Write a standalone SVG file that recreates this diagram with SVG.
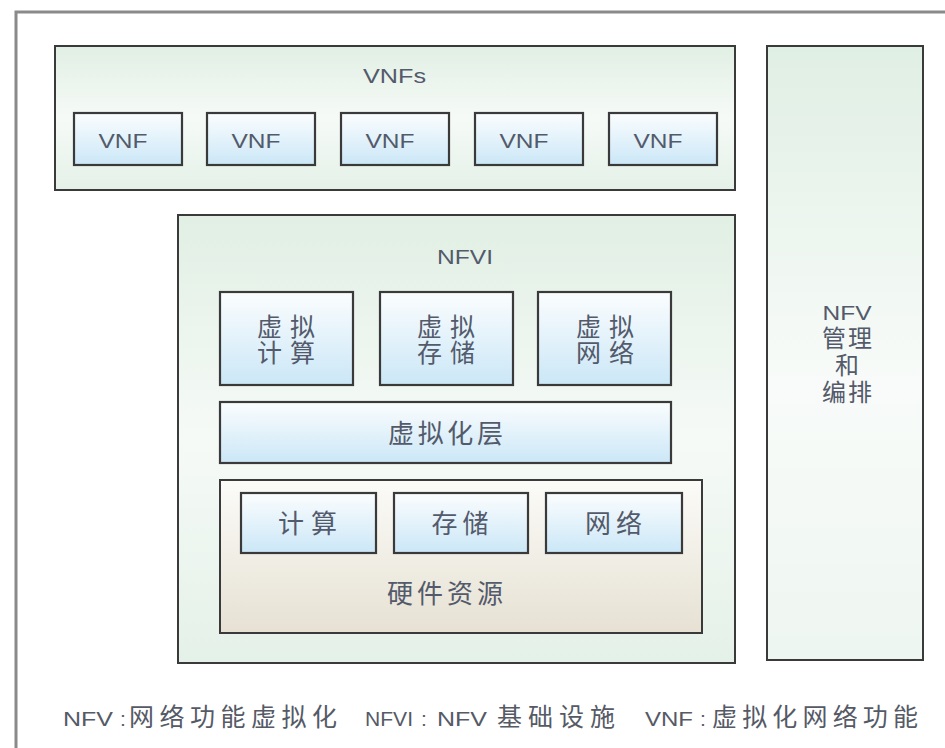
<svg xmlns="http://www.w3.org/2000/svg" width="945" height="748" viewBox="0 0 945 748">
<defs>
<linearGradient id="gGreen" x1="0" y1="0" x2="0" y2="1">
<stop offset="0" stop-color="#e1efe4"/>
<stop offset="0.5" stop-color="#f6faf7"/>
<stop offset="1" stop-color="#e4f1e8"/>
</linearGradient>
<linearGradient id="gSide" x1="0" y1="0" x2="0" y2="1">
<stop offset="0" stop-color="#e0efe4"/>
<stop offset="0.55" stop-color="#f8fbf9"/>
<stop offset="1" stop-color="#eef6f1"/>
</linearGradient>
<linearGradient id="gBlue" x1="0" y1="0" x2="0" y2="1">
<stop offset="0" stop-color="#fbfdfe"/>
<stop offset="1" stop-color="#cbe7f7"/>
</linearGradient>
<linearGradient id="gBeige" x1="0" y1="0" x2="0" y2="1">
<stop offset="0" stop-color="#fbfbf8"/>
<stop offset="1" stop-color="#e6e1d3"/>
</linearGradient>
</defs>
<style>
.frame{fill:none;stroke:#8a8a8a;stroke-width:3}
.cont{stroke:#3a3a3a;stroke-width:2}
.box{fill:url(#gBlue);stroke:#3a3a3a;stroke-width:2.2}
text{font-family:"Liberation Sans","Noto Sans CJK SC",sans-serif;fill:#535a6b;text-anchor:middle}
.lat{font-size:21px}
.cjk{font-size:26px}
.two{font-size:25px}
.side{font-size:24px}
.foot{font-size:21px;text-anchor:start;fill:#555a66}
.fc{font-size:25px}
</style>
<rect width="945" height="748" fill="#ffffff"/>
<rect class="frame" x="16" y="12" width="940" height="750"/>

<g id="vnfs">
<rect class="cont" x="55" y="46" width="680" height="144" fill="url(#gGreen)"/>
<text class="lat" x="394.5" y="83" textLength="63" lengthAdjust="spacingAndGlyphs">VNFs</text>
</g>
<g id="vnf1"><rect class="box" x="74" y="113" width="108" height="52"/><text class="lat" x="123" y="148" textLength="49" lengthAdjust="spacingAndGlyphs">VNF</text></g>
<g id="vnf2"><rect class="box" x="207" y="113" width="108" height="52"/><text class="lat" x="256" y="148" textLength="49" lengthAdjust="spacingAndGlyphs">VNF</text></g>
<g id="vnf3"><rect class="box" x="341" y="113" width="108" height="52"/><text class="lat" x="390" y="148" textLength="49" lengthAdjust="spacingAndGlyphs">VNF</text></g>
<g id="vnf4"><rect class="box" x="475" y="113" width="108" height="52"/><text class="lat" x="524" y="148" textLength="49" lengthAdjust="spacingAndGlyphs">VNF</text></g>
<g id="vnf5"><rect class="box" x="609" y="113" width="108" height="52"/><text class="lat" x="658" y="148" textLength="49" lengthAdjust="spacingAndGlyphs">VNF</text></g>

<g id="mano">
<rect class="cont" x="767" y="46" width="156" height="614" fill="url(#gSide)"/>
<text x="847" y="320"><tspan class="lat" x="847" textLength="49" lengthAdjust="spacingAndGlyphs">NFV</tspan><tspan class="side" x="847" y="347" textLength="50">管理</tspan><tspan class="side" x="847" y="374">和</tspan><tspan class="side" x="847" y="401" textLength="50">编排</tspan></text>
</g>

<g id="nfvi">
<rect class="cont" x="178" y="215" width="557" height="448" fill="url(#gGreen)"/>
<text class="lat" x="465" y="264" textLength="56" lengthAdjust="spacingAndGlyphs">NFVI</text>
</g>
<g id="vcompute"><rect class="box" x="220" y="292" width="133" height="93"/><text class="two"><tspan x="286" y="336" textLength="58">虚拟</tspan><tspan x="286" y="362" textLength="58">计算</tspan></text></g>
<g id="vstorage"><rect class="box" x="380" y="292" width="133" height="93"/><text class="two"><tspan x="446" y="336" textLength="58">虚拟</tspan><tspan x="446" y="362" textLength="58">存储</tspan></text></g>
<g id="vnetwork"><rect class="box" x="538" y="292" width="133" height="93"/><text class="two"><tspan x="605" y="336" textLength="58">虚拟</tspan><tspan x="605" y="362" textLength="58">网络</tspan></text></g>
<g id="vlayer"><rect class="box" x="220" y="402" width="451" height="61"/><text class="cjk" x="445.5" y="443" textLength="115">虚拟化层</text></g>

<g id="hardware">
<rect class="cont" x="220" y="480" width="482" height="153" fill="url(#gBeige)"/>
<text class="cjk" x="445" y="603" textLength="116">硬件资源</text>
</g>
<g id="compute"><rect class="box" x="241" y="493" width="135" height="60"/><text class="cjk" x="307.5" y="533" textLength="59">计算</text></g>
<g id="storage"><rect class="box" x="394" y="493" width="134" height="60"/><text class="cjk" x="460" y="533" textLength="57">存储</text></g>
<g id="network"><rect class="box" x="546" y="493" width="136" height="60"/><text class="cjk" x="613.5" y="533" textLength="57">网络</text></g>

<g id="connectors"></g>

<g id="legend">
<text class="foot" y="726"><tspan x="63" textLength="50" lengthAdjust="spacingAndGlyphs">NFV</tspan><tspan x="120">:</tspan><tspan class="fc" x="129" textLength="208">网络功能虚拟化</tspan></text>
<text class="foot" y="726"><tspan x="365" textLength="48" lengthAdjust="spacingAndGlyphs">NFVI</tspan><tspan x="421">:</tspan><tspan x="437" textLength="50" lengthAdjust="spacingAndGlyphs">NFV</tspan><tspan class="fc" x="497" textLength="118">基础设施</tspan></text>
<text class="foot" y="726"><tspan x="645" textLength="48" lengthAdjust="spacingAndGlyphs">VNF</tspan><tspan x="700">:</tspan><tspan class="fc" x="712" textLength="206">虚拟化网络功能</tspan></text>
</g>
</svg>
